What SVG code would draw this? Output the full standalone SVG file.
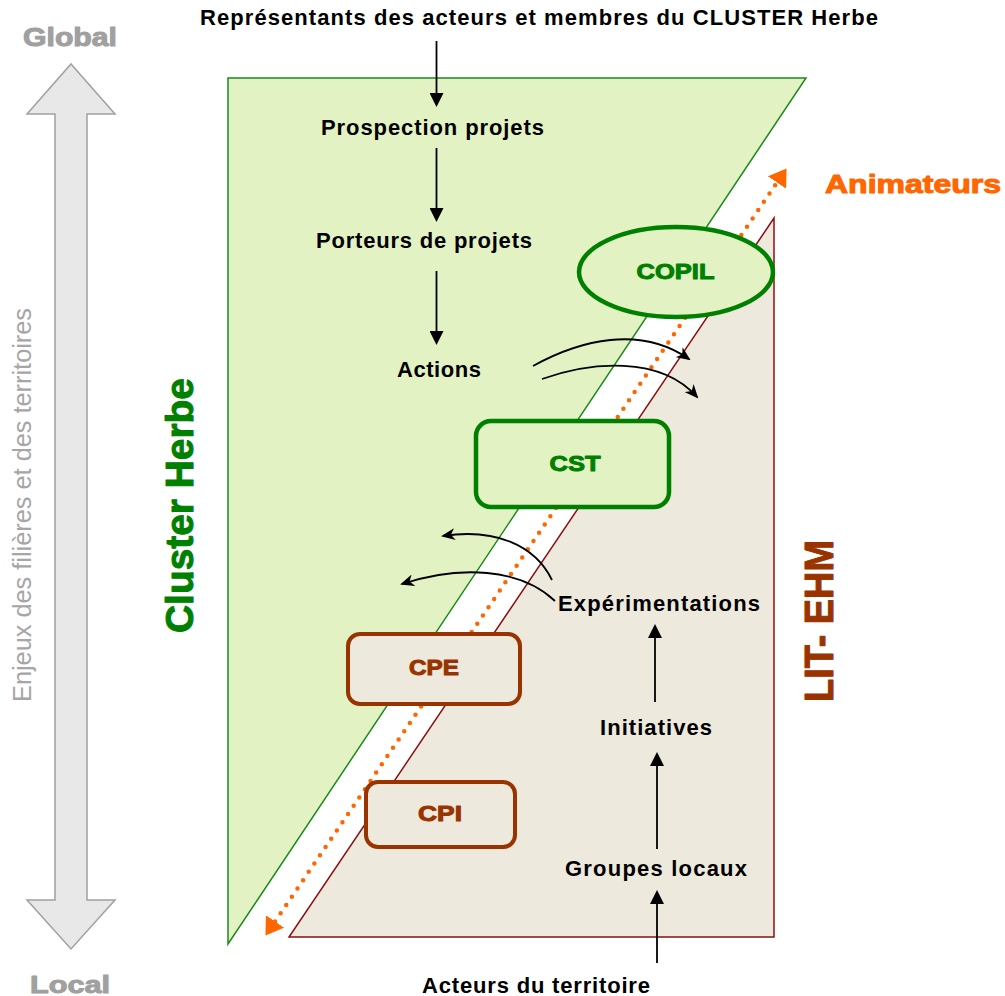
<svg xmlns="http://www.w3.org/2000/svg" width="1005" height="996" viewBox="0 0 1005 996">
<style>
.lbl{font-family:"Liberation Sans",Arial,sans-serif;font-weight:bold;font-size:22px;fill:#000;text-anchor:middle}
.heavy{font-family:"Liberation Sans",Arial,sans-serif;font-weight:bold;text-anchor:middle;stroke-linejoin:round}
.gr{fill:#008000;stroke:#008000;stroke-width:1}
.br{fill:#993300;stroke:#993300;stroke-width:1}
.gy{fill:#a0a0a0;stroke:#a0a0a0;stroke-width:1}
.or{fill:#ff6600;stroke:#ff6600;stroke-width:1}
.conn{fill:none;stroke:#000;stroke-width:1.8}
.box-g{fill:#e3f2c3;stroke:#008000;stroke-width:4.5}
.box-b{fill:#ede9dc;stroke:#993300;stroke-width:4}
</style>
<defs>
<marker id="ah" markerUnits="userSpaceOnUse" markerWidth="14" markerHeight="14" viewBox="0 0 14 14" refX="11" refY="7" orient="auto">
<path d="M0,0 L14,7 L0,14 z" fill="#000"/>
</marker>
<marker id="ahc" markerUnits="userSpaceOnUse" markerWidth="14" markerHeight="12" viewBox="0 0 14 12" refX="12" refY="6" orient="auto">
<path d="M0,0 L14,6 L0,12 L4,6 z" fill="#000"/>
</marker>
<marker id="aho" markerUnits="userSpaceOnUse" markerWidth="17" markerHeight="22" viewBox="0 0 17 22" refX="0" refY="11" orient="auto-start-reverse">
<path d="M0,0 L17,11 L0,22 z" fill="#ff6600"/>
</marker>
</defs>

<g id="axis">
<polygon points="71,64 115,114 87,114 87,900 115,900 71,949 27,900 55,900 55,114 27,114" fill="#e8e8e8" stroke="#a0a0a0" stroke-width="1.5"/>
<text class="heavy gy" x="70" y="46" font-size="25" textLength="94" lengthAdjust="spacingAndGlyphs">Global</text>
<text class="heavy gy" x="70" y="993" font-size="24" textLength="80" lengthAdjust="spacingAndGlyphs">Local</text>
<text transform="translate(31,505) rotate(-90)" font-family="Liberation Sans, Arial, sans-serif" font-size="25" fill="#a6a6a6" text-anchor="middle" textLength="394" lengthAdjust="spacingAndGlyphs">Enjeux des filières et des territoires</text>
</g>

<g id="cluster-herbe">
<polygon points="228,78 806,78 228,944" fill="#e3f2c3" stroke="#1a8a1a" stroke-width="1.5"/>
<text class="heavy gr" transform="translate(193,505.5) rotate(-90)" font-size="39" textLength="255" lengthAdjust="spacingAndGlyphs">Cluster Herbe</text>
</g>

<g id="lit-ehm">
<polygon points="774,218 774,937 289,937" fill="#ede9dc" stroke="#8b1010" stroke-width="1.5"/>
<text class="heavy br" transform="translate(833,621) rotate(-90)" font-size="40" textLength="162" lengthAdjust="spacingAndGlyphs">LIT- EHM</text>
</g>

<g id="animateurs">
<line x1="275" y1="921.5" x2="777" y2="182.5" stroke="#ff6600" stroke-width="4.5" stroke-linecap="round" stroke-dasharray="0 10" marker-start="url(#aho)" marker-end="url(#aho)"/>
<text class="heavy or" x="913" y="193" font-size="25" textLength="176" lengthAdjust="spacingAndGlyphs">Animateurs</text>
</g>

<g id="connectors">
<line class="conn" x1="436.5" y1="41" x2="436.5" y2="104" marker-end="url(#ah)"/>
<line class="conn" x1="436.5" y1="148" x2="436.5" y2="219" marker-end="url(#ah)"/>
<line class="conn" x1="436.5" y1="271" x2="436.5" y2="342" marker-end="url(#ah)"/>
<line class="conn" x1="655" y1="702" x2="655" y2="627" marker-end="url(#ah)"/>
<line class="conn" x1="657" y1="849" x2="657" y2="755" marker-end="url(#ah)"/>
<line class="conn" x1="657" y1="963" x2="657" y2="893" marker-end="url(#ah)"/>
<path class="conn" d="M533,366 C580,340 640,325 689,359" marker-end="url(#ahc)"/>
<path class="conn" d="M542,379 C590,362 660,355 697,397" marker-end="url(#ahc)"/>
<path class="conn" d="M552,580 C535,545 495,528 443,536" marker-end="url(#ahc)"/>
<path class="conn" d="M555,601 C520,568 460,565 402,584" marker-end="url(#ahc)"/>
</g>

<g id="copil">
<ellipse class="box-g" cx="676" cy="272" rx="97" ry="45"/>
<text class="heavy gr" x="675.5" y="279" font-size="22" textLength="78" lengthAdjust="spacingAndGlyphs">COPIL</text>
</g>
<g id="cst">
<rect class="box-g" x="476" y="421" width="193" height="86" rx="15"/>
<text class="heavy gr" x="575" y="471" font-size="22" textLength="51" lengthAdjust="spacingAndGlyphs">CST</text>
</g>
<g id="cpe">
<rect class="box-b" x="348" y="634" width="172" height="70" rx="12"/>
<text class="heavy br" x="434" y="675" font-size="22" textLength="50" lengthAdjust="spacingAndGlyphs">CPE</text>
</g>
<g id="cpi">
<rect class="box-b" x="366" y="782" width="149" height="65" rx="12"/>
<text class="heavy br" x="440" y="821" font-size="22" textLength="44" lengthAdjust="spacingAndGlyphs">CPI</text>
</g>

<g id="title"><text class="lbl" x="539" y="25" textLength="678" lengthAdjust="spacing">Représentants des acteurs et membres du CLUSTER  Herbe</text></g>
<g id="prospection"><text class="lbl" x="432.5" y="135" textLength="223" lengthAdjust="spacing">Prospection projets</text></g>
<g id="porteurs"><text class="lbl" x="424" y="248" textLength="216" lengthAdjust="spacing">Porteurs de projets</text></g>
<g id="actions"><text class="lbl" x="439" y="377" textLength="84" lengthAdjust="spacing">Actions</text></g>
<g id="experimentations"><text class="lbl" x="659" y="611" textLength="202" lengthAdjust="spacing">Expérimentations</text></g>
<g id="initiatives"><text class="lbl" x="656" y="735" textLength="112" lengthAdjust="spacing">Initiatives</text></g>
<g id="groupes"><text class="lbl" x="656" y="876" textLength="182" lengthAdjust="spacing">Groupes locaux</text></g>
<g id="acteurs"><text class="lbl" x="536" y="993" textLength="228" lengthAdjust="spacing">Acteurs du territoire</text></g>
</svg>
